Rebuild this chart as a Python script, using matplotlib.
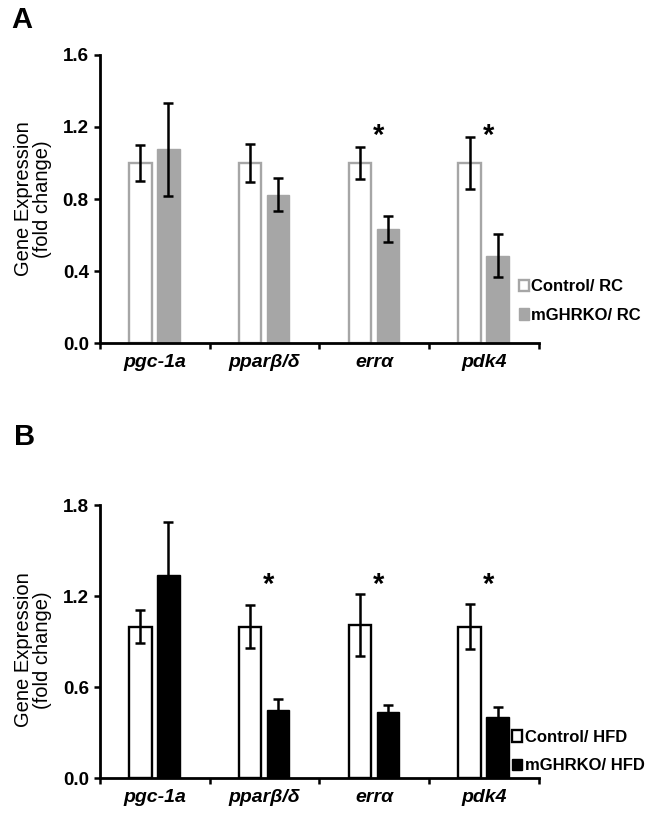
import matplotlib
matplotlib.use("Agg")
import matplotlib.pyplot as plt
from matplotlib.patches import Patch
import numpy as np

plt.rcParams['font.family'] = ['Liberation Sans', 'DejaVu Sans']

genes = ['pgc-1a', 'pparβ/δ', 'errα', 'pdk4']

# panel A: regular chow
ctrl_rc = [1.0, 1.0, 1.0, 1.0]
ctrl_rc_err = [0.10, 0.105, 0.087, 0.145]
ko_rc = [1.075, 0.825, 0.633, 0.485]
ko_rc_err = [0.26, 0.09, 0.074, 0.12]
stars_rc = [2, 3]

# panel B: high fat diet
ctrl_hfd = [1.0, 1.0, 1.01, 1.0]
ctrl_hfd_err = [0.11, 0.14, 0.205, 0.15]
ko_hfd = [1.34, 0.45, 0.435, 0.40]
ko_hfd_err = [0.35, 0.07, 0.05, 0.07]
stars_hfd = [1, 2, 3]

gray = '#a6a6a6'
fig = plt.figure(figsize=(6.53, 8.19), dpi=100)


def panel(ax, ctrl, ctrl_err, ko, ko_err, stars, ymax, yticks, ctrl_edge, ko_color,
          labels, star_y, leg_x, leg_y):
    x = np.arange(len(genes))
    w = 0.205
    ax.bar(x - 0.13, ctrl, w, color='white', edgecolor=ctrl_edge, linewidth=1.7, zorder=2)
    ax.bar(x + 0.125, ko, w, color=ko_color, edgecolor=ko_color, linewidth=1.0, zorder=2)
    ax.errorbar(x - 0.13, ctrl, yerr=ctrl_err, fmt='none', ecolor='black',
                elinewidth=1.8, capsize=3.5, capthick=1.8, zorder=3)
    ax.errorbar(x + 0.125, ko, yerr=ko_err, fmt='none', ecolor='black',
                elinewidth=1.8, capsize=3.5, capthick=1.8, zorder=3)
    for s in stars:
        ax.text(s + 0.04, star_y, '*', ha='center', va='center',
                fontsize=21, fontweight='bold')
    ax.set_xlim(-0.5, len(genes) - 0.5)
    ax.set_ylim(0, ymax)
    ax.set_yticks(yticks)
    ax.set_yticklabels(['%.1f' % t for t in yticks], fontsize=13.5, fontweight='bold')
    ax.set_xticks(np.arange(len(genes) + 1) - 0.5)
    ax.set_xticklabels([])
    ax.set_xticks(x, minor=True)
    ax.set_xticklabels(genes, minor=True, fontsize=14, fontweight='bold', style='italic')
    ax.tick_params(axis='x', which='minor', length=0, pad=8)
    ax.tick_params(axis='x', which='major', direction='out', length=4, width=1.8)
    ax.tick_params(axis='y', direction='out', length=4, width=1.8, pad=4)
    for side in ['top', 'right']:
        ax.spines[side].set_visible(False)
    for side in ['left', 'bottom']:
        ax.spines[side].set_linewidth(2.0)
    ax.set_ylabel('Gene Expression\n(fold change)', fontsize=14.5, labelpad=8,
                  linespacing=1.0)
    handles = [Patch(facecolor='white', edgecolor=ctrl_edge, linewidth=1.7),
               Patch(facecolor=ko_color, edgecolor=ko_color)]
    ax.legend(handles, labels, loc='center left', bbox_to_anchor=(leg_x, leg_y),
              frameon=False, prop={'weight': 'bold', 'size': 12},
              handlelength=0.6, handleheight=0.7, handletextpad=0.15,
              labelspacing=0.8, borderpad=0, borderaxespad=0)


axA = fig.add_axes([0.153, 0.581, 0.672, 0.352])
panel(axA, ctrl_rc, ctrl_rc_err, ko_rc, ko_rc_err, stars_rc, 1.6,
      [0.0, 0.4, 0.8, 1.2, 1.6], gray, gray, ['Control/ RC', 'mGHRKO/ RC'],
      1.15, 0.955, 0.146)

axB = fig.add_axes([0.153, 0.050, 0.672, 0.333])
panel(axB, ctrl_hfd, ctrl_hfd_err, ko_hfd, ko_hfd_err, stars_hfd, 1.8,
      [0.0, 0.6, 1.2, 1.8], 'black', 'black', ['Control/ HFD', 'mGHRKO/ HFD'],
      1.275, 0.94, 0.097)
axB.yaxis.label.set_position((0, 0.47))

fig.text(0.017, 0.975, 'A', fontsize=21, fontweight='bold', va='center')
fig.text(0.022, 0.466, 'B', fontsize=21, fontweight='bold', va='center')

fig.savefig('out.png', dpi=100)
